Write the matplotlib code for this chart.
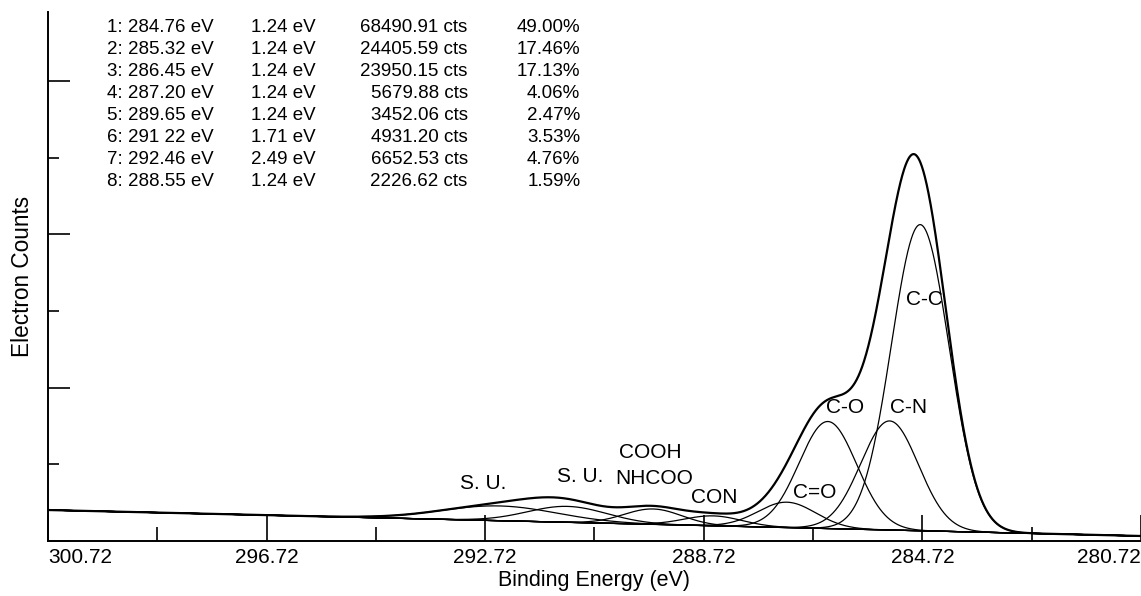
import numpy as np
import matplotlib as mpl
mpl.use("Agg")
import matplotlib.pyplot as plt
from matplotlib.ticker import MultipleLocator, FixedLocator

plt.rcParams['font.family'] = ['Liberation Sans', 'DejaVu Sans']

# fitted C1s components
peak_no = [1, 2, 3, 4, 5, 6, 7, 8]
position = [284.76, 285.32, 286.45, 287.20, 289.65, 291.22, 292.46, 288.55]
fwhm = [1.24, 1.24, 1.24, 1.24, 1.24, 1.71, 2.49, 1.24]
area = [68490.91, 24405.59, 23950.15, 5679.88, 3452.06, 4931.20, 6652.53, 2226.62]
percent = [49.00, 17.46, 17.13, 4.06, 2.47, 3.53, 4.76, 1.59]
pos_text = ["284.76", "285.32", "286.45", "287.20", "289.65", "291 22", "292.46", "288.55"]

# linear background (counts) at the two ends of the energy window
bg_high = 5250.0   # at 300.72 eV
bg_low = 850.0     # at 280.72 eV

# peak assignments and where their labels sit (eV, counts)
label_text = ["C-C", "C-N", "C-O", "C=O", "CON", "NHCOO", "COOH", "S. U.", "S. U."]
label_x = [284.69, 284.98, 286.14, 286.69, 288.52, 289.63, 289.69, 290.99, 292.76]
label_y = [40850, 22544, 22544, 8136, 7289, 10509, 14916, 10848, 9662]

xticks = [300.72, 296.72, 292.72, 288.72, 284.72, 280.72]
xminor = [298.72, 294.72, 290.72, 286.72, 282.72]

e_lo, e_hi = 280.72, 300.72
E = np.linspace(e_hi, e_lo, 3000)
bg = bg_low + (bg_high - bg_low) * (E - e_lo) / (e_hi - e_lo)

comps = []
for p, w, a in zip(position, fwhm, area):
	h = a / (w * 1.0645)
	comps.append(h * np.exp(-4 * np.log(2) * (E - p) ** 2 / w ** 2))
envelope = bg + np.sum(comps, axis=0)

fig = plt.figure(figsize=(11.41, 5.96), dpi=100)
ax = fig.add_axes([48 / 1141, 1 - 541 / 596, 1 - 48 / 1141, (541 - 12) / 596])

ax.plot(E, bg, color='black', lw=0.9)
for c in comps:
	ax.plot(E, bg + c, color='black', lw=0.9)
ax.plot(E, envelope, color='black', lw=1.6)

for t, x, y in zip(label_text, label_x, label_y):
	ax.text(x, y, t, ha='center', va='center', fontsize=15)

# table of fit results
for i in range(len(peak_no)):
	yy = 0.970 - i * 0.0414
	ax.text(0.054, yy, "%d: %s eV" % (peak_no[i], pos_text[i]), transform=ax.transAxes,
		ha='left', va='center', fontsize=13.5)
	ax.text(0.186, yy, "%.2f eV" % fwhm[i], transform=ax.transAxes,
		ha='left', va='center', fontsize=13.5)
	ax.text(0.384, yy, "%.2f cts" % area[i], transform=ax.transAxes,
		ha='right', va='center', fontsize=13.5)
	ax.text(0.487, yy, "%.2f%%" % percent[i], transform=ax.transAxes,
		ha='right', va='center', fontsize=13.5)

ax.set_xlim(e_hi, e_lo)
ax.set_ylim(0, 89665)

ax.spines['top'].set_visible(False)
ax.spines['right'].set_visible(False)
ax.spines['left'].set_linewidth(1.4)
ax.spines['bottom'].set_linewidth(1.4)

ax.set_xticks(xticks)
ax.set_xticklabels(["%.2f" % v for v in xticks], fontsize=15)
labs = ax.get_xticklabels()
labs[0].set_horizontalalignment('left')
labs[-1].set_horizontalalignment('right')
ax.xaxis.set_minor_locator(FixedLocator(xminor))
ax.tick_params(axis='x', which='major', direction='in', length=19, width=1.2, pad=5)
ax.tick_params(axis='x', which='minor', direction='in', length=10, width=1.2)

ax.yaxis.set_major_locator(MultipleLocator(26000))
ax.yaxis.set_minor_locator(MultipleLocator(13000))
ax.tick_params(axis='y', which='major', direction='in', length=16, width=1.2, labelleft=False)
ax.tick_params(axis='y', which='minor', direction='in', length=8, width=1.2)

ax.set_xlabel("Binding Energy (eV)", fontsize=15.5, labelpad=2)
ax.set_ylabel("Electron Counts", fontsize=16.3, labelpad=7)

plt.savefig("out.png", dpi=100)
